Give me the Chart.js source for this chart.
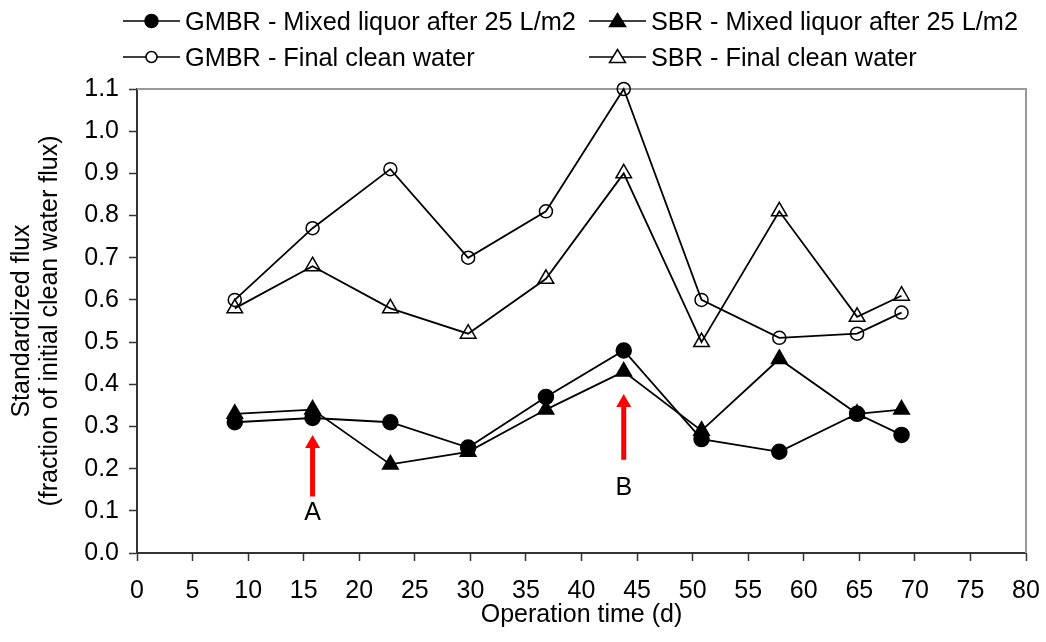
<!DOCTYPE html>
<html>
<head>
<meta charset="utf-8">
<script src="https://cdn.jsdelivr.net/npm/chart.js@4.4.0/dist/chart.umd.min.js"></script>
<style>
  body { margin: 0; background: #fff; }
  #wrap { position: relative; width: 1046px; height: 642px; }
  .leg { position: absolute; height: 30px; font: 25.3px "Liberation Sans", Arial, sans-serif; line-height: 30px; color: #000; white-space: nowrap; }
  .leg svg { position: absolute; left: 0; top: 0; }
  .leg span { position: absolute; left: 62px; top: 0; }
</style>
</head>
<body>
<div id="wrap">
  <canvas id="chart"></canvas>
</div>
<script>
// days (points sit slightly left of the whole-day ticks)
const days = [8.8, 15.8, 22.8, 29.8, 36.8, 43.8, 50.8, 57.8, 64.8, 68.8];
const gmbrMixed = [0.31, 0.32, 0.31, 0.25, 0.37, 0.48, 0.27, 0.24, 0.33, 0.28];
const sbrMixed = [0.33, 0.34, 0.21, 0.24, 0.34, 0.43, 0.29, 0.46, 0.33, 0.34];
const gmbrClean = [0.60, 0.77, 0.91, 0.70, 0.81, 1.10, 0.60, 0.51, 0.52, 0.57];
const sbrClean = [0.58, 0.68, 0.58, 0.52, 0.65, 0.90, 0.50, 0.81, 0.56, 0.61];
const yTickLabels = ['0.0', '0.1', '0.2', '0.3', '0.4', '0.5', '0.6', '0.7', '0.8', '0.9', '1.0', '1.1'];

// arrows A and B, in data units
const arrows = [
  { x: 15.8, from: 0.134, to: 0.28, label: 'A', labelY: 0.095 },
  { x: 43.8, from: 0.221, to: 0.377, label: 'B', labelY: 0.155 }
];

const FONT = '"Liberation Sans", Arial, sans-serif';

const series = [
  { label: 'GMBR - Mixed liquor after 25 L/m2', data: gmbrMixed, style: 'circle', filled: true, col: 0, row: 0 },
  { label: 'SBR - Mixed liquor after 25 L/m2', data: sbrMixed, style: 'triangle', filled: true, col: 1, row: 0 },
  { label: 'GMBR - Final clean water', data: gmbrClean, style: 'circle', filled: false, col: 0, row: 1 },
  { label: 'SBR - Final clean water', data: sbrClean, style: 'triangle', filled: false, col: 1, row: 1 }
];

// html legend, two columns
const legCols = [123, 589];
const legRows = [6, 42];
const wrap = document.getElementById('wrap');
series.forEach(s => {
  const d = document.createElement('div');
  d.className = 'leg';
  d.style.left = legCols[s.col] + 'px';
  d.style.top = legRows[s.row] + 'px';
  const fill = s.filled ? '#000' : '#fff';
  let mk;
  if (s.style === 'circle') {
    mk = `<circle cx="28.5" cy="15" r="${s.filled ? 6.5 : 5.5}" fill="${fill}" stroke="#000" stroke-width="1.5"/>`;
  } else {
    mk = `<polygon points="28.5,7.5 36.5,20.5 20.5,20.5" fill="${fill}" stroke="#000" stroke-width="1.5"/>`;
  }
  d.innerHTML = `<svg width="57" height="30"><line x1="0" y1="15" x2="57" y2="15" stroke="#000" stroke-width="1.5"/>${mk}</svg><span>${s.label}</span>`;
  wrap.appendChild(d);
});

const frame = {
  id: 'frame',
  beforeDatasetsDraw(chart) {
    const { ctx, chartArea: a } = chart;
    ctx.save();
    ctx.strokeStyle = '#999';
    ctx.lineWidth = 2;
    ctx.beginPath();
    ctx.moveTo(a.left, a.top);
    ctx.lineTo(a.right, a.top);
    ctx.lineTo(a.right, a.bottom);
    ctx.stroke();
    ctx.restore();
  }
};

const arrowPlugin = {
  id: 'arrows',
  afterDatasetsDraw(chart) {
    const { ctx, scales: { x, y } } = chart;
    ctx.save();
    arrows.forEach(a => {
      const px = x.getPixelForValue(a.x);
      const yb = y.getPixelForValue(a.from);
      const yt = y.getPixelForValue(a.to);
      ctx.fillStyle = '#ff0000';
      ctx.fillRect(px - 2.5, yt + 12, 5, yb - yt - 12);
      ctx.beginPath();
      ctx.moveTo(px, yt);
      ctx.lineTo(px + 7.5, yt + 13);
      ctx.lineTo(px - 7.5, yt + 13);
      ctx.closePath();
      ctx.fill();
      ctx.fillStyle = '#000';
      ctx.font = '25px ' + FONT;
      ctx.textAlign = 'center';
      ctx.textBaseline = 'middle';
      ctx.fillText(a.label, px, y.getPixelForValue(a.labelY));
    });
    ctx.restore();
  }
};

new Chart(document.getElementById('chart'), {
  type: 'line',
  data: {
    datasets: series.map(s => ({
      label: s.label,
      data: days.map((d, i) => ({ x: d, y: s.data[i] })),
      borderColor: '#000',
      borderWidth: 1.8,
      clip: false,
      pointStyle: s.style,
      pointRadius: s.style === 'circle' ? (s.filled ? 7.5 : 6.5) : 9,
      pointBorderWidth: 1.5,
      pointBorderColor: '#000',
      pointBackgroundColor: s.filled ? '#000' : 'rgba(0,0,0,0)',
      tension: 0
    }))
  },
  options: {
    responsive: true,
    maintainAspectRatio: false,
    animation: false,
    layout: { padding: { top: 89, right: 20, left: 0, bottom: 0 } },
    plugins: { legend: { display: false }, tooltip: { enabled: false } },
    scales: {
      x: {
        type: 'linear',
        min: 0,
        max: 80,
        afterFit: s => { s.height = 89; s.paddingLeft = 0; s.paddingRight = 0; },
        ticks: { stepSize: 5, autoSkip: false, maxRotation: 0, color: '#000', padding: 15, font: { family: FONT, size: 25 } },
        grid: { drawOnChartArea: false, drawTicks: true, tickLength: 8, tickColor: '#333', tickWidth: 1.5 },
        border: { color: '#333', width: 2 },
        title: { display: true, text: 'Operation time (d)', color: '#000', padding: { top: 0, bottom: 12 }, font: { family: FONT, size: 25 } }
      },
      y: {
        min: 0,
        max: 1.1,
        afterFit: s => { s.width = 137; s.paddingTop = 0; s.paddingBottom = 0; },
        ticks: { stepSize: 0.1, color: '#000', padding: 10, font: { family: FONT, size: 25 },
          callback: (v, i) => yTickLabels[i] },
        grid: { drawOnChartArea: false, drawTicks: true, tickLength: 8, tickColor: '#333', tickWidth: 1.5 },
        border: { color: '#333', width: 2 },
        title: { display: true, text: ['Standardized flux', '(fraction of initial clean water flux)'], color: '#000',
          padding: { top: 8, bottom: 0 }, font: { family: FONT, size: 25, lineHeight: 1.12 } }
      }
    }
  },
  plugins: [frame, arrowPlugin]
});
</script>
</body>
</html>
